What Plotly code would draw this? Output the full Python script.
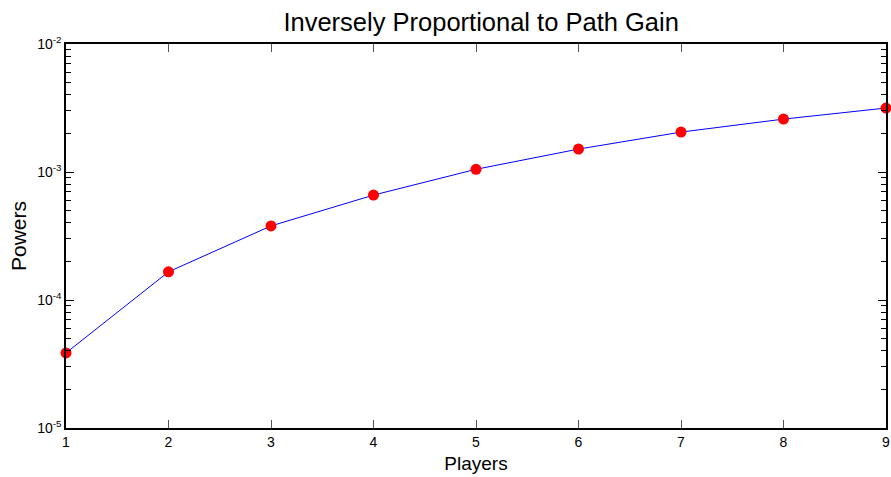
import plotly.graph_objects as go

# Number of players and the corresponding power levels
players = [1, 2, 3, 4, 5, 6, 7, 8, 9]
powers = [3.86e-5, 1.66e-4, 3.79e-4, 6.6e-4, 1.05e-3, 1.51e-3, 2.05e-3, 2.59e-3, 3.16e-3]

decades = [1e-5, 1e-4, 1e-3, 1e-2]
decade_labels = ["10<sup>-5</sup>", "10<sup>-4</sup>", "10<sup>-3</sup>", "10<sup>-2</sup>"]
minor_vals = [m * d for d in decades[:-1] for m in range(2, 10)]

narrow = "Liberation Sans Narrow, Arial Narrow, Arial, sans-serif"

fig = go.Figure()
fig.add_trace(go.Scatter(
    x=players, y=powers, mode="lines+markers",
    line=dict(color="#0000ff", width=1),
    marker=dict(color="#ff0000", size=11, symbol="circle"),
    cliponaxis=False,
    showlegend=False,
))

fig.update_layout(
    width=891, height=477,
    margin=dict(l=66, r=1, t=44, b=49),
    paper_bgcolor="white", plot_bgcolor="white",
    title=dict(text="Inversely Proportional to Path Gain", x=0.54, xanchor="center",
               y=0.953, yanchor="middle",
               font=dict(family=narrow, size=25.5, color="black")),
)

fig.update_xaxes(
    range=[1, 9], tickvals=players, ticktext=[str(p) for p in players],
    ticks="inside", ticklen=8, tickwidth=1, tickcolor="#555",
    ticklabeloverflow="allow",
    showline=True, linecolor="black", linewidth=1.5, mirror="ticks",
    showgrid=False, zeroline=False,
    tickfont=dict(family=narrow, size=14, color="black"),
    title=dict(text="Players", font=dict(family=narrow, size=19, color="black"), standoff=8),
)

fig.update_yaxes(
    type="log", range=[-5, -2],
    tickvals=decades, ticktext=decade_labels,
    ticks="inside", ticklen=8, tickwidth=1, tickcolor="black",
    minor=dict(tickvals=minor_vals, ticks="inside", ticklen=5, tickwidth=1, tickcolor="black", showgrid=False),
    showline=True, linecolor="black", linewidth=1.5, mirror="ticks",
    showgrid=False, zeroline=False,
    tickfont=dict(family=narrow, size=14, color="black"),
    title=dict(text="Powers", font=dict(family="Liberation Sans, Arial, sans-serif", size=21, color="black"), standoff=5),
)

fig.write_html("out.html")
